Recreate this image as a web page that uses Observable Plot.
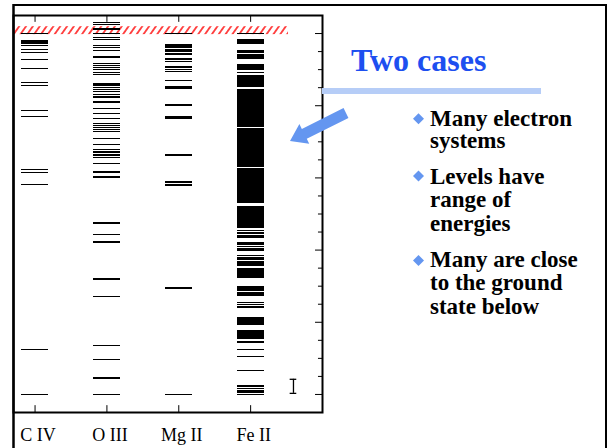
<!DOCTYPE html>
<html><head><meta charset="utf-8">
<script src="https://cdn.jsdelivr.net/npm/d3@7"></script>
<script src="https://cdn.jsdelivr.net/npm/@observablehq/plot@0.6"></script>
<style>
body{margin:0;background:#fff;}
#wrap{position:relative;width:608px;height:448px;overflow:hidden;background:#fff;}
#chart{position:absolute;left:0;top:0;}
#deco{position:absolute;left:0;top:0;}
.serif{font-family:"Liberation Serif","Times New Roman",serif;font-weight:bold;}
</style></head><body>
<div id="wrap"><div id="chart"></div>
<svg id="deco" width="608" height="448" xmlns="http://www.w3.org/2000/svg">
  <defs>
    <pattern id="hatch" patternUnits="userSpaceOnUse" width="5.6" height="10" patternTransform="rotate(35)">
      <line x1="2.8" y1="0" x2="2.8" y2="10" stroke="#ff2020" stroke-width="1.6"/>
    </pattern>
  </defs>
  <path d="M13,5 H606 V448" fill="none" stroke="#000" stroke-width="2"/>
  <line x1="13.5" y1="4" x2="13.5" y2="448" stroke="#000" stroke-width="2.5"/>
  <rect x="322" y="88" width="219" height="6" fill="#b6cdf7"/>
  <text class="serif" x="351" y="71" font-size="32" fill="#1d4ff0">Two cases</text>
  <polygon id="arrow" fill="#6496f0"/>
  <g id="bullets" class="serif" font-size="23" fill="#000"></g>
</svg>
</div>
<script>
// Energy levels, as % of each ion's ionization potential
const ions = ["C IV", "O III", "Mg II", "Fe II"];
const civ = [100, 98.1, 97.6, 97.2, 96.7, 95.6, 94.7, 92.8, 90.3, 86.4, 85.6, 78.7, 77.0, 62.3, 61.5, 58.2, 12.5, 0];
const oiii = [103.1, 102.5, 101.2, 100.0, 98.9, 98.3, 96.7, 96.1, 95.3, 93.5, 91.7, 91.1, 90.6, 90.0, 89.2, 88.6, 86.1, 85.6, 85.0, 84.5, 83.9, 83.1, 82.5, 81.0, 79.2, 77.8, 76.5, 75.1, 74.5, 74.0, 73.4, 72.9, 70.9, 69.3, 67.9, 67.2, 66.3, 65.6, 64.0, 61.6, 60.2, 47.5, 44.3, 42.2, 32.0, 27.1, 13.6, 9.7, 4.6, 0];
const mgii = [100, 96.9, 96.2, 95.6, 95.1, 94.4, 93.0, 92.3, 90.7, 90.0, 89.5, 87.0, 85.3, 84.9, 80.2, 77.0, 76.6, 66.4, 58.8, 58.0, 29.5, 0];
const feii = [100, 98.2, 97.8, 97.4, 95.3, 94.9, 94.2, 93.8, 93.3, 91.4, 91.0, 90.6, 90.2, 89.2, 88.4, 87.9, 87.5, 87.1, 86.7, 86.3, 85.9, 85.5, 84.5, 84.1, 83.7, 83.2, 82.8, 82.4, 82.0, 81.6, 81.2, 80.7, 80.3, 79.9, 79.5, 79.1, 78.7, 78.3, 77.8, 77.4, 76.9, 76.5, 76.0, 75.6, 75.2, 74.8, 74.4, 73.5, 73.1, 72.7, 72.3, 71.9, 71.5, 71.1, 70.6, 70.2, 69.8, 69.4, 69.0, 68.6, 68.1, 67.7, 67.3, 66.9, 66.5, 66.1, 65.6, 65.2, 64.8, 64.4, 64.0, 63.6, 63.2, 62.5, 62.0, 61.6, 61.2, 60.8, 60.4, 60.0, 59.6, 59.1, 58.6, 58.0, 57.5, 56.9, 56.5, 56.1, 55.7, 55.3, 54.8, 54.4, 54.0, 53.6, 53.2, 52.1, 51.7, 51.2, 50.8, 50.4, 50.0, 49.6, 49.2, 48.8, 48.3, 47.9, 47.5, 47.1, 46.7, 46.3, 45.4, 44.7, 44.0, 43.6, 42.1, 41.7, 41.0, 40.4, 40.0, 38.5, 37.9, 37.5, 36.7, 36.1, 35.7, 34.9, 34.5, 34.1, 33.7, 33.2, 32.8, 32.4, 29.9, 29.5, 29.0, 28.3, 27.9, 27.4, 25.5, 24.9, 24.2, 21.2, 20.7, 20.1, 19.6, 17.7, 17.3, 16.9, 16.5, 16.1, 15.7, 14.5, 12.5, 10.5, 6.6, 2.3, 1.7, 1.1, 0.6, 0];
const continuumBand = [99.7, 101.9];      // hatched ionization continuum
const scaleBar = [0.3, 4.2];              // small "I" bar
const energyTicks = [0, 5, 10, 15, 20, 25, 30, 35, 40, 45, 50, 55, 60, 65, 70, 75, 80, 85, 90, 95, 100];
const ionPositions = [1, 2, 3, 4];

const series = [civ, oiii, mgii, feii];
const levels = series.flatMap((arr, i) => arr.map(e => ({ion: i + 1, name: ions[i], e})));

const half = 0.188;
const chart = Plot.plot({
  width: 330, height: 448,
  marginLeft: 13, marginRight: 8, marginTop: 15, marginBottom: 36,
  x: {domain: [0.7, 5]},
  y: {domain: [-5, 105], axis: null},
  style: {fontFamily: "'Liberation Serif','Times New Roman',serif", fontSize: "18px", color: "#000", background: "transparent", overflow: "visible"},
  marks: [
    Plot.rect([continuumBand], {x1: 0.7, x2: 4.527, y1: d => d[0], y2: d => d[1], fill: "url(#hatch)"}),
    Plot.ruleY(levels, {y: "e", x1: d => d.ion - half, x2: d => d.ion + half, stroke: "#000", strokeWidth: 1.6, shapeRendering: "crispEdges"}),
    Plot.ruleY(energyTicks, {y: d => d, x1: d => d % 20 === 0 ? 5 - 0.097 : 5 - 0.056, x2: 5, stroke: "#000", strokeWidth: 1}),
    Plot.ruleX(ionPositions, {x: d => d, y1: 105, y2: 103.1, stroke: "#000", strokeWidth: 1}),
    Plot.ruleX(ionPositions, {x: d => d, y1: -5, y2: -3.1, stroke: "#000", strokeWidth: 1}),
    Plot.ruleX([4.596], {x: d => d, y1: scaleBar[0], y2: scaleBar[1], stroke: "#000", strokeWidth: 1.3}),
    Plot.ruleY(scaleBar, {y: d => d, x1: 4.55, x2: 4.642, stroke: "#000", strokeWidth: 1.3}),
    Plot.frame({stroke: "#000", strokeWidth: 2}),
    Plot.axisX(ionPositions, {tickFormat: d => ions[d - 1], tickSize: 0, tickPadding: 16, fontSize: 18, dx: 3})
  ]
});
document.getElementById("chart").appendChild(chart);

// decorations on the right: arrow and bullet list
const tip = [290, 141], tail = [346, 113];
const dxv = tip[0] - tail[0], dyv = tip[1] - tail[1];
const L = Math.hypot(dxv, dyv), u = [dxv / L, dyv / L], n = [-u[1], u[0]];
const hw = 5.5, hh = 11, hl = 16;
const B = [tip[0] - hl * u[0], tip[1] - hl * u[1]];
const pts = [
  [tail[0] + hw * n[0], tail[1] + hw * n[1]],
  [B[0] + hw * n[0], B[1] + hw * n[1]],
  [B[0] + hh * n[0], B[1] + hh * n[1]],
  tip,
  [B[0] - hh * n[0], B[1] - hh * n[1]],
  [B[0] - hw * n[0], B[1] - hw * n[1]],
  [tail[0] - hw * n[0], tail[1] - hw * n[1]]
];
document.getElementById("arrow").setAttribute("points", pts.map(p => p.join(",")).join(" "));

const bulletLines = [["Many electron", 126], ["systems", 148], ["Levels have", 183.5], ["range of", 207], ["energies", 230.5], ["Many are close", 267], ["to the ground", 290], ["state below", 314]];
const diamonds = [118.7, 176, 260.5];
const g = document.getElementById("bullets");
const NS = "http://www.w3.org/2000/svg";
for (const [t, yb] of bulletLines) {
  const el = document.createElementNS(NS, "text");
  el.setAttribute("x", 430); el.setAttribute("y", yb); el.textContent = t;
  g.appendChild(el);
}
for (const cy of diamonds) {
  const p = document.createElementNS(NS, "polygon");
  const cx = 418.5, r = 5.5;
  p.setAttribute("points", `${cx},${cy - r} ${cx + r},${cy} ${cx},${cy + r} ${cx - r},${cy}`);
  p.setAttribute("fill", "#6496f0");
  g.appendChild(p);
}
</script>
</body></html>
